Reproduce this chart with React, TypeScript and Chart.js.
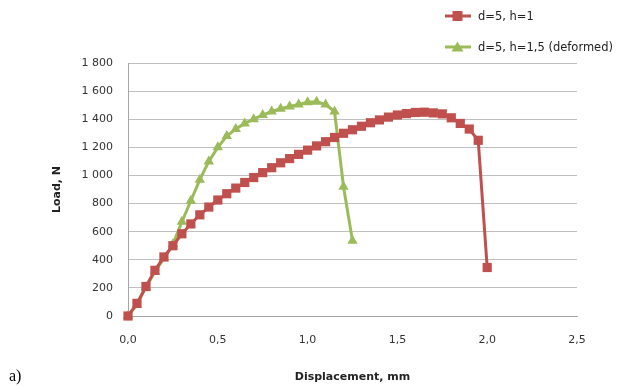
import React, { useEffect, useRef } from "react";
import { Chart, registerables } from "chart.js";

Chart.register(...registerables);

const redLabel = "d=5, h=1";
const greenLabel = "d=5, h=1,5 (deformed)";

const redX = [0, 0.05, 0.1, 0.15, 0.2, 0.25, 0.3, 0.35, 0.4, 0.45, 0.5, 0.55, 0.6, 0.65, 0.7, 0.75, 0.8, 0.85, 0.9, 0.95, 1.0, 1.05, 1.1, 1.15, 1.2, 1.25, 1.3, 1.35, 1.4, 1.45, 1.5, 1.55, 1.6, 1.65, 1.7, 1.75, 1.8, 1.85, 1.9, 1.95, 2.0];
const redY = [0, 90, 210, 325, 420, 500, 585, 655, 720, 775, 825, 870, 910, 950, 985, 1020, 1055, 1090, 1120, 1150, 1180, 1210, 1240, 1270, 1300, 1325, 1350, 1375, 1395, 1415, 1430, 1440, 1448, 1450, 1445, 1438, 1410, 1370, 1330, 1250, 345];

const greenX = [0, 0.05, 0.1, 0.15, 0.2, 0.25, 0.3, 0.35, 0.4, 0.45, 0.5, 0.55, 0.6, 0.65, 0.7, 0.75, 0.8, 0.85, 0.9, 0.95, 1.0, 1.05, 1.1, 1.15, 1.2, 1.25];
const greenY = [0, 80, 205, 315, 410, 510, 670, 820, 970, 1100, 1200, 1280, 1330, 1370, 1400, 1430, 1455, 1475, 1490, 1505, 1520, 1525, 1505, 1455, 920, 535];

const xMin = 0;
const xMax = 2.5;
const xStep = 0.5;
const yMin = 0;
const yMax = 1800;
const yStep = 200;

const xTitle = "Displacement, mm";
const yTitle = "Load, N";
const panelLabel = "a)";

const RED = "#C0504D";
const GREEN = "#9BBB59";
const FONT = "'DejaVu Sans', 'Noto Sans', sans-serif";

function fmtY(v: number): string {
  const s = String(Math.round(v));
  return s.replace(/\B(?=(\d{3})+(?!\d))/g, " ");
}
function fmtX(v: number): string {
  return v.toFixed(1).replace(".", ",");
}

function LegendItem({ color, label, shape, top }: { color: string; label: string; shape: "square" | "triangle"; top: number }) {
  return (
    <div style={{ position: "absolute", left: 444, top: top - 8, height: 16, display: "flex", alignItems: "center", whiteSpace: "nowrap" }}>
      <svg width={28} height={16} style={{ display: "block" }}>
        <line x1={1} y1={8} x2={27} y2={8} stroke={color} strokeWidth={3} />
        {shape === "square" ? (
          <rect x={8.5} y={3} width={10} height={10} fill={color} />
        ) : (
          <polygon points="13.5,2.5 19.5,12.5 7.5,12.5" fill={color} />
        )}
      </svg>
      <span style={{ marginLeft: 6, fontFamily: FONT, fontSize: 11.5, color: "#222" }}>{label}</span>
    </div>
  );
}

export default function App() {
  const canvasRef = useRef<HTMLCanvasElement | null>(null);

  useEffect(() => {
    if (!canvasRef.current) return;
    const chart = new Chart(canvasRef.current, {
      type: "line",
      data: {
        datasets: [
          {
            label: redLabel,
            data: redX.map((x, i) => ({ x, y: redY[i] })),
            borderColor: RED,
            backgroundColor: RED,
            borderWidth: 3,
            pointStyle: "rect",
            pointRadius: 6.5,
            pointBorderWidth: 0,
            tension: 0,
            clip: false,
          },
          {
            label: greenLabel,
            data: greenX.map((x, i) => ({ x, y: greenY[i] })),
            borderColor: GREEN,
            backgroundColor: GREEN,
            borderWidth: 3,
            pointStyle: "triangle",
            pointRadius: 6,
            pointBorderWidth: 0,
            tension: 0,
            clip: false,
          },
        ],
      },
      options: {
        animation: false,
        responsive: false,
        maintainAspectRatio: false,
        layout: { padding: { left: 51, right: 48, top: 63, bottom: 0 } },
        plugins: { legend: { display: false }, tooltip: { enabled: false } },
        scales: {
          x: {
            type: "linear",
            min: xMin,
            max: xMax,
            afterFit: (s: any) => { s.height = 71; },
            ticks: {
              stepSize: xStep,
              padding: 18,
              color: "#333",
              font: { family: FONT, size: 11 },
              callback: (v: any) => fmtX(Number(v)),
              maxRotation: 0,
            },
            grid: { display: false, drawTicks: false },
            border: { display: true, color: "#A6A6A6", width: 1 },
            title: { display: true, text: xTitle, color: "#222", font: { family: FONT, size: 11, weight: "bold" }, padding: { top: 0, bottom: 3 } },
          },
          y: {
            type: "linear",
            min: yMin,
            max: yMax,
            afterFit: (s: any) => { s.width = 77; },
            ticks: {
              stepSize: yStep,
              padding: 15,
              color: "#333",
              font: { family: FONT, size: 11 },
              callback: (v: any) => fmtY(Number(v)),
            },
            grid: { color: "#BFBFBF", lineWidth: 1, drawTicks: false },
            border: { display: true, color: "#A6A6A6", width: 1 },
            title: { display: true, text: yTitle, color: "#222", font: { family: FONT, size: 11, weight: "bold" }, padding: { top: 0, bottom: 0 } },
          },
        },
      },
    });
    return () => chart.destroy();
  }, []);

  return (
    <div style={{ position: "fixed", left: 0, top: 0, width: 625, height: 387, background: "#fff", overflow: "hidden" }}>
      <canvas ref={canvasRef} width={625} height={387} style={{ position: "absolute", left: 0, top: 0, width: 625, height: 387 }} />
      <LegendItem color={RED} label={redLabel} shape="square" top={16} />
      <LegendItem color={GREEN} label={greenLabel} shape="triangle" top={47} />
      <div style={{ position: "absolute", left: 9, top: 367, fontFamily: "'Liberation Serif', 'DejaVu Serif', serif", fontSize: 16, color: "#000" }}>{panelLabel}</div>
    </div>
  );
}
